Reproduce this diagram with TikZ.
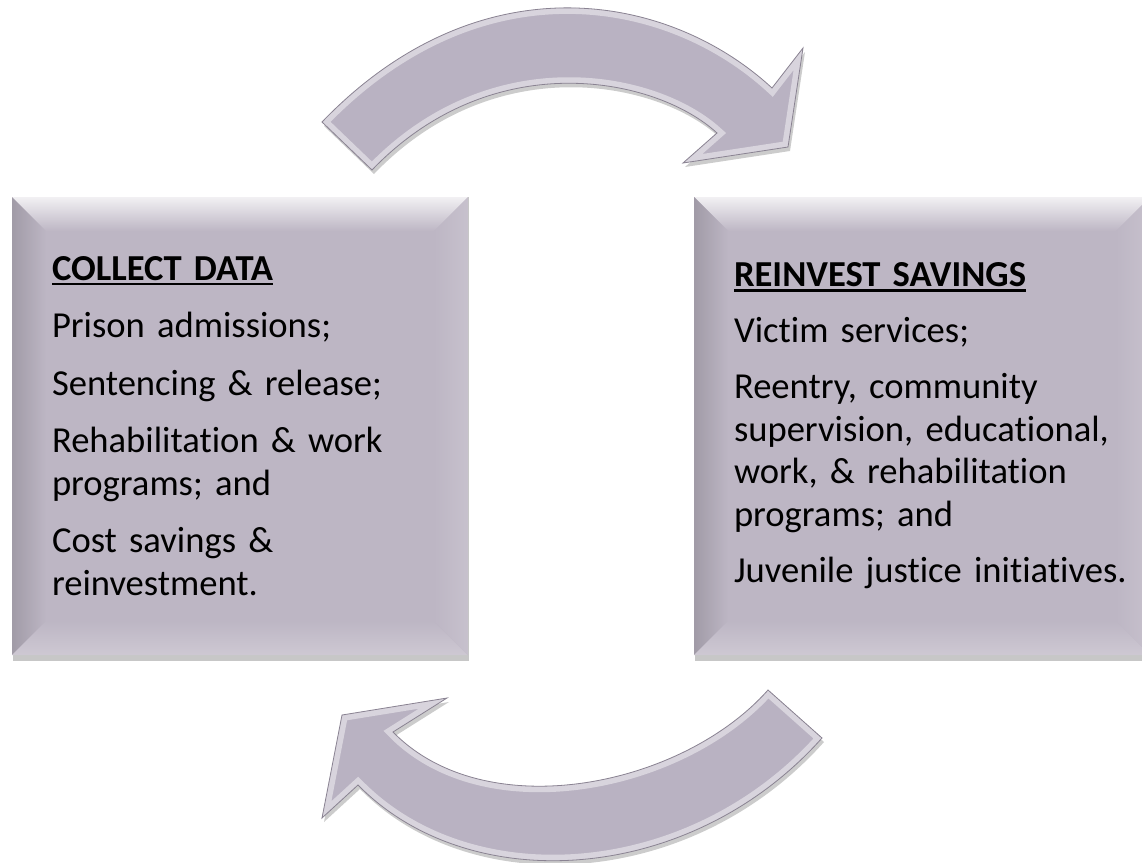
\documentclass[tikz,border=0pt]{standalone}
\usepackage{fontspec}
\setmainfont{Carlito}[Ligatures=NoCommon]
\usepackage{tikz}
\usetikzlibrary{backgrounds}

\definecolor{panelfill}{HTML}{BDB6C4}
\definecolor{arrowfill}{HTML}{B9B2C2}
\definecolor{arrowedge}{HTML}{8A8392}

% bold heading with a heavy underline
\newcommand\ulhead[1]{\setbox0\hbox{\textbf{#1}}\rlap{\rule[-5pt]{\wd0}{2.4pt}}\box0}

% outlines of the two curved block arrows
\def\toparrow{(322,122) .. controls (479,-41) and (668,-8) .. (772,88)
  -- (803,48) -- (788,147) -- (683,163) -- (717,133)
  .. controls (656,77) and (493,44) .. (372,170) -- cycle}
\def\bottomarrow{(822,738) .. controls (691,885) and (470,899) .. (358,785)
  -- (322,818) -- (342,715) -- (447,698) -- (393,732)
  .. controls (486,827) and (682,787) .. (768,690) -- cycle}

\begin{document}
\begin{tikzpicture}[x=1pt, y=-1pt,
  panel/.style={fill=panelfill, minimum width=456pt, minimum height=458pt,
    text width=376pt, inner xsep=40pt, inner ysep=0pt, align=left,
    font=\fontsize{36.6}{42.5}\selectfont,
    path picture={
      \path (path picture bounding box.north west) coordinate (pnw)
            (path picture bounding box.north east) coordinate (pne)
            (path picture bounding box.south west) coordinate (psw)
            (path picture bounding box.south east) coordinate (pse);
      \shade[top color=panelfill!20!white, bottom color=panelfill]
        (pnw) -- (pne) -- ([shift={(-34,34)}]pne) -- ([shift={(34,34)}]pnw) -- cycle;
      \shade[left color=panelfill!85!black, right color=panelfill]
        (pnw) -- ([shift={(34,34)}]pnw) -- ([shift={(34,-34)}]psw) -- (psw) -- cycle;
      \shade[top color=panelfill, bottom color=panelfill!75!white]
        (psw) -- ([shift={(34,-34)}]psw) -- ([shift={(-34,-34)}]pse) -- (pse) -- cycle;
      \shade[left color=panelfill, right color=panelfill!85!white]
        (pne) -- ([shift={(-34,34)}]pne) -- ([shift={(-34,-34)}]pse) -- (pse) -- cycle;
    }}]

  \useasboundingbox (0,0) rectangle (1142,862);
  \clip (0,0) rectangle (1142,862);

  % boxes
  \node[panel] (collect) at (240,426)
    {\ulhead{COLLECT DATA}\\[15pt]
     Prison admissions;\\[15pt]
     Sentencing \& release;\\[15pt]
     Rehabilitation \& work\\
     programs; and\\[15pt]
     Cost savings \&\\
     reinvestment.};
  \node[panel] (reinvest) at (922,426)
    {\ulhead{REINVEST SAVINGS}\\[13pt]
     Victim services;\\[14pt]
     Reentry, community\\
     supervision, educational,\\
     work, \& rehabilitation\\
     programs; and\\[14pt]
     \mbox{Juvenile justice initiatives.}};

  \begin{scope}[on background layer]
    \fill[white] (0,0) rectangle (1142,862);
    \fill[black, opacity=.22] ([shift={(1,0)}]collect.north west) rectangle ([shift={(1,6)}]collect.south east);
    \fill[black, opacity=.22] ([shift={(1,0)}]reinvest.north west) rectangle ([shift={(1,6)}]reinvest.south east);
  \end{scope}

  % curved arrows
  \fill[black, opacity=.2, shift={(2,4)}] \toparrow;
  \fill[arrowfill] \toparrow;
  \begin{scope}
    \clip \toparrow;
    \draw[white, opacity=.45, line width=12pt, line join=miter] \toparrow;
  \end{scope}
  \draw[arrowedge, line width=.8pt] \toparrow;

  \fill[black, opacity=.2, shift={(2,4)}] \bottomarrow;
  \fill[arrowfill] \bottomarrow;
  \begin{scope}
    \clip \bottomarrow;
    \draw[white, opacity=.45, line width=12pt, line join=miter] \bottomarrow;
  \end{scope}
  \draw[arrowedge, line width=.8pt] \bottomarrow;
\end{tikzpicture}
\end{document}
